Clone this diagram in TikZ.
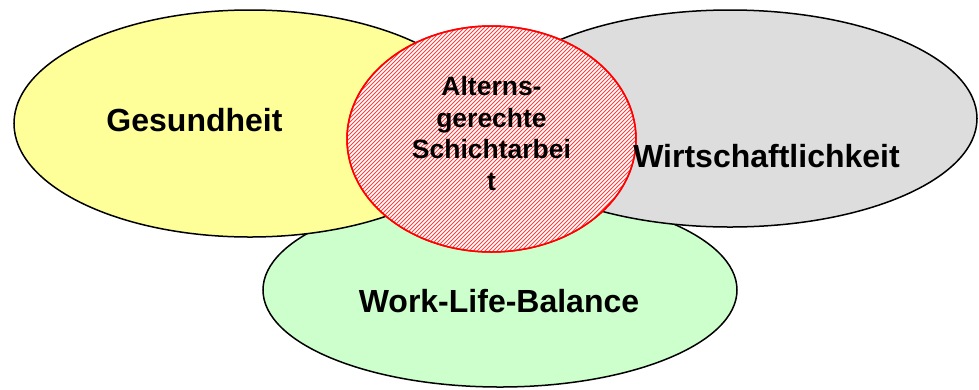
\documentclass[tikz,border=0pt]{standalone}
\usepackage{fontspec}
\setmainfont{Liberation Sans}
\usetikzlibrary{shapes.geometric}

\tikzset{
  area/.style={ellipse, draw=black, line width=1.5bp, inner sep=0pt, outer sep=0pt},
  hatchline/.style={red!75, line width=0.9bp},
  bigtext/.style={font=\bfseries\fontsize{32bp}{38bp}\selectfont, inner sep=0pt, anchor=base},
  coretext/.style={font=\bfseries\fontsize{26.5bp}{31.5bp}\selectfont, inner sep=0pt,
                   align=center, anchor=base},
}

\begin{document}
\begin{tikzpicture}[x=1bp, y=-1bp]
  \useasboundingbox (0,0) rectangle (979,389);

  % the three surrounding fields
  \node[area, fill={rgb,255:red,204;green,255;blue,204},
        minimum width=474bp, minimum height=194bp] (wlb) at (500,290) {};
  \node[area, fill={rgb,255:red,255;green,255;blue,153},
        minimum width=472bp, minimum height=227bp] (ges) at (250,123.5) {};
  \node[area, fill={rgb,255:red,221;green,221;blue,221},
        minimum width=494bp, minimum height=217bp] (wir) at (730,118.5) {};

  % the hatched core in the middle
  \node[area, draw=red, fill=white, minimum width=289bp, minimum height=226bp] (core) at (491.5,139) {};
  \begin{scope}
    \clip (core.center) ellipse [x radius=144.5, y radius=113];
    \foreach \c in {0,...,95}
      \draw[hatchline] (444+4*\c,0) -- ++(-280,280);
  \end{scope}
  \draw[red, line width=1.5bp] (core.center) ellipse [x radius=144.5, y radius=113];

  % labels (a multi-line node sits on the baseline of its last line)
  \node[bigtext] (tges) at (194.5,131) {Gesundheit};
  \node[bigtext] (twir) at (766.5,167) {Wirtschaftlichkeit};
  \node[bigtext] (twlb) at (499,312) {Work-Life-Balance};
  \node[coretext] (tcore) at (491.5,190) {Alterns-\\gerechte\\Schichtarbei\\t};
\end{tikzpicture}
\end{document}
